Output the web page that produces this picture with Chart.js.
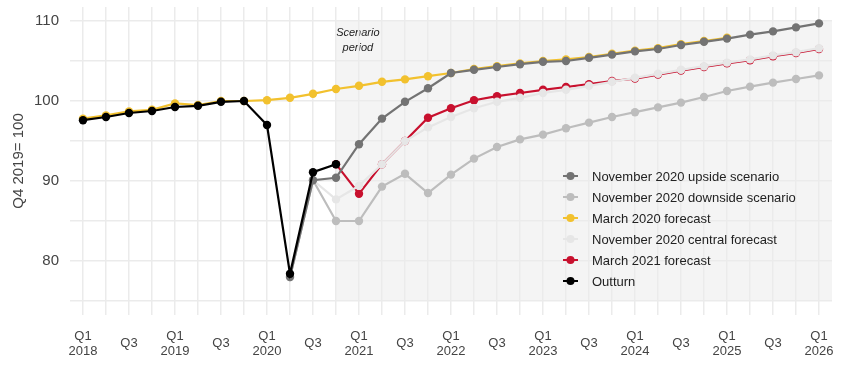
<!DOCTYPE html>
<html>
<head>
<meta charset="utf-8">
<script src="https://cdn.jsdelivr.net/npm/chart.js@4.4.1/dist/chart.umd.min.js"></script>
<style>
html, body { margin: 0; padding: 0; background: #fff; }
</style>
</head>
<body>
<canvas id="myChart" width="850" height="366"></canvas>
<script>
const quarters = [
    '2018 Q1', '2018 Q2', '2018 Q3', '2018 Q4',
    '2019 Q1', '2019 Q2', '2019 Q3', '2019 Q4',
    '2020 Q1', '2020 Q2', '2020 Q3', '2020 Q4',
    '2021 Q1', '2021 Q2', '2021 Q3', '2021 Q4',
    '2022 Q1', '2022 Q2', '2022 Q3', '2022 Q4',
    '2023 Q1', '2023 Q2', '2023 Q3', '2023 Q4',
    '2024 Q1', '2024 Q2', '2024 Q3', '2024 Q4',
    '2025 Q1', '2025 Q2', '2025 Q3', '2025 Q4',
    '2026 Q1'
];

const upside = [null, null, null, null, null, null, null, null, null,
    78.0, 90.1, 90.4, 94.6, 97.8, 99.9, 101.6, 103.5, 103.9, 104.25, 104.6, 104.9, 105.0,
    105.4, 105.8, 106.2, 106.5, 107.0, 107.4, 107.8, 108.3, 108.7, 109.2, 109.7];
const downside = [null, null, null, null, null, null, null, null, null,
    78.0, 90.1, 85.0, 85.0, 89.3, 90.9, 88.5, 90.8, 92.8, 94.25, 95.2, 95.8, 96.6,
    97.3, 98.0, 98.6, 99.2, 99.8, 100.5, 101.25, 101.8, 102.3, 102.75, 103.2];
const march2020 = [97.8, 98.2, 98.7, 98.9, 99.7, 99.5, 100.0, 100.0,
    100.1, 100.4, 100.9, 101.5, 101.9, 102.4, 102.7, 103.1, 103.5, 104.0, 104.35, 104.7,
    105.0, 105.2, 105.5, 105.9, 106.3, 106.6, 107.1, 107.5, 107.9, null, null, null, null];
const central = [null, null, null, null, null, null, null, null, null,
    78.0, 90.1, 87.7, 89.4, 92.1, 95.0, 96.7, 98.0, 99.1, 99.9, 100.4, 101.0, 101.4,
    101.9, 102.4, 102.9, 103.4, 103.9, 104.35, 104.8, 105.2, 105.7, 106.1, 106.6];
const march2021 = [null, null, null, null, null, null, null, null, null, null, null,
    92.1, 88.4, 92.1, 95.0, 97.9, 99.1, 100.1, 100.6, 101.0, 101.4, 101.75,
    102.1, 102.5, 102.8, 103.3, 103.8, 104.25, 104.7, 105.1, 105.6, 106.0, 106.5];
const outturn = [97.6, 98.0, 98.5, 98.75, 99.25, 99.4, 99.9, 100.0, 97.0, 78.4, 91.1, 92.1,
    null, null, null, null, null, null, null, null, null, null, null, null, null, null,
    null, null, null, null, null, null, null];

const yTicks = [75, 80, 85, 90, 95, 100, 105, 110];
const scenarioStart = 11;

const FONT = "'Liberation Sans', Arial, sans-serif";

const toPoints = arr => arr.map((v, i) => ({ x: i, y: v }));

const tickLabel = i => {
    const q = quarters[i];
    if (!q) return '';
    const [year, qq] = q.split(' ');
    if (qq === 'Q1') return ['Q1', year];
    if (qq === 'Q3') return 'Q3';
    return '';
};

const series = [
    { label: 'November 2020 upside scenario', data: upside, color: '#737373', order: 1 },
    { label: 'November 2020 downside scenario', data: downside, color: '#bdbdbd', order: 3 },
    { label: 'March 2020 forecast', data: march2020, color: '#f2c12e', order: 5 },
    { label: 'November 2020 central forecast', data: central, color: '#e6e6e6', order: 2 },
    { label: 'March 2021 forecast', data: march2021, color: '#c8102e', order: 4 },
    { label: 'Outturn', data: outturn, color: '#000000', order: 0 }
];

const noPad = axis => {
    axis.paddingTop = 0;
    axis.paddingBottom = 0;
    axis.paddingLeft = 0;
    axis.paddingRight = 0;
};

const extras = {
    id: 'extras',
    beforeDraw(chart) {
        const { ctx, chartArea, scales } = chart;
        const xs = scales.x, ys = scales.y;
        ctx.save();
        ctx.fillStyle = '#f4f4f4';
        const x0 = xs.getPixelForValue(scenarioStart);
        const y0 = ys.getPixelForValue(110);
        const y1 = ys.getPixelForValue(75);
        ctx.fillRect(x0, y0, chartArea.right - x0, y1 - y0);
        ctx.fillStyle = '#222';
        ctx.font = 'italic 11px ' + FONT;
        ctx.textAlign = 'center';
        ctx.textBaseline = 'middle';
        const tx = xs.getPixelForValue(11.95);
        ctx.fillText('Scenario', tx, ys.getPixelForValue(108.45));
        ctx.fillText('period', tx, ys.getPixelForValue(106.6));
        ctx.restore();
    },
    afterDraw(chart) {
        const ctx = chart.ctx;
        ctx.save();
        ctx.font = '13px ' + FONT;
        ctx.textBaseline = 'middle';
        ctx.textAlign = 'left';
        chart.data.datasets.forEach((ds, i) => {
            const y = 176 + i * 21;
            ctx.strokeStyle = ds.borderColor;
            ctx.lineWidth = 2;
            ctx.beginPath();
            ctx.moveTo(563, y);
            ctx.lineTo(578, y);
            ctx.stroke();
            ctx.fillStyle = ds.borderColor;
            ctx.beginPath();
            ctx.arc(570.5, y, 4, 0, Math.PI * 2);
            ctx.fill();
            ctx.fillStyle = '#222';
            ctx.fillText(ds.label, 592, y + 1);
        });
        ctx.restore();
    }
};

const ctx = document.querySelector('#myChart').getContext('2d');
const config = {
    type: 'line',
    data: {
        datasets: series.map(s => ({
            label: s.label,
            data: toPoints(s.data),
            borderColor: s.color,
            backgroundColor: s.color,
            pointBackgroundColor: s.color,
            pointBorderWidth: 0,
            pointRadius: 4.2,
            borderWidth: 2.2,
            tension: 0,
            order: s.order
        }))
    },
    options: {
        responsive: false,
        animation: false,
        devicePixelRatio: 1,
        layout: { padding: { top: 7, right: 18, left: 0, bottom: 0 } },
        plugins: {
            legend: { display: false },
            tooltip: { enabled: false }
        },
        scales: {
            x: {
                type: 'linear',
                min: -0.565,
                max: 32.565,
                afterBuildTicks: axis => {
                    axis.ticks = quarters.map((q, i) => ({ value: i }));
                },
                afterFit: axis => { axis.height = 51; noPad(axis); },
                border: { display: false },
                grid: { color: '#ebebeb', lineWidth: 1.5, drawTicks: false },
                ticks: {
                    autoSkip: false,
                    maxRotation: 0,
                    crossAlign: 'center',
                    padding: 21,
                    color: '#444',
                    font: { size: 13, family: FONT, lineHeight: 1.15 },
                    callback: v => tickLabel(v)
                }
            },
            y: {
                min: 73.25,
                max: 111.75,
                afterBuildTicks: axis => {
                    axis.ticks = yTicks.map(v => ({ value: v }));
                },
                afterFit: axis => { axis.width = 70; noPad(axis); },
                border: { display: false },
                grid: { color: '#ebebeb', lineWidth: 1.5, drawTicks: false },
                ticks: {
                    padding: 11,
                    color: '#444',
                    font: { size: 15, family: FONT },
                    callback: v => (v % 10 === 0 ? v : '')
                },
                title: {
                    display: true,
                    text: 'Q4 2019= 100',
                    color: '#444',
                    font: { size: 15, family: FONT },
                    padding: { top: 10, bottom: 0 }
                }
            }
        }
    },
    plugins: [extras]
};
new Chart(ctx, config);
</script>
</body>
</html>
